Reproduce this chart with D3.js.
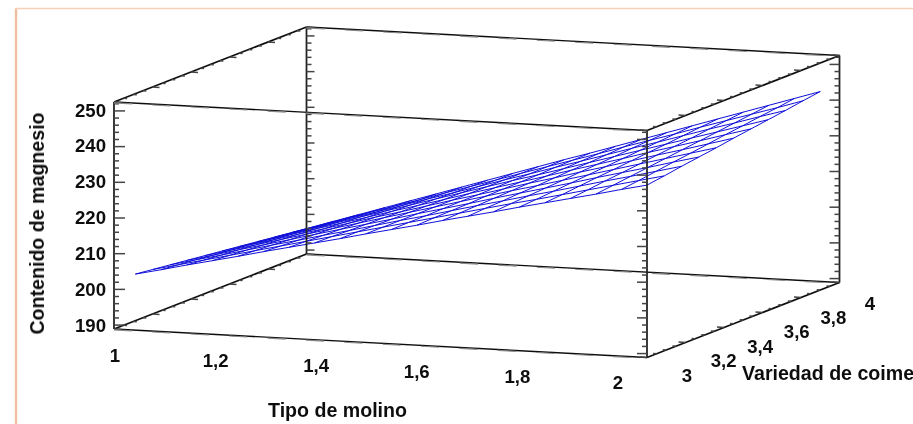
<!DOCTYPE html>
<html><head><meta charset="utf-8">
<style>html,body{margin:0;padding:0;background:#fff;overflow:hidden}svg{display:block}text{font-family:"Liberation Sans",Arial,sans-serif;font-weight:700;fill:#111}</style>
<script src="https://cdnjs.cloudflare.com/ajax/libs/d3/7.8.5/d3.min.js"></script>
</head><body><svg id="c" width="913" height="424"></svg>
<script>
const xTicks=[1,1.2,1.4,1.6,1.8,2];
const xTickLabels=["1","1,2","1,4","1,6","1,8","2"];
const cTicks=[3,3.2,3.4,3.6,3.8,4];
const cTickLabels=["3","3,2","3,4","3,6","3,8","4"];
const zTicks=[190,200,210,220,230,240,250];
const xGrid=[1.04,1.088,1.136,1.184,1.232,1.28,1.328,1.376,1.424,1.472,1.52,1.568,1.616,1.664,1.712,1.76,1.808,1.856,1.904,1.952,2];
const cGrid=[3,3.09,3.18,3.27,3.36,3.45,3.54,3.63,3.72,3.81,3.9];
const z0=[204.6,206.2,207.9,209.5,211.1,212.8,214.4,216.0,217.6,219.3,220.9,222.5,224.2,225.8,227.4,229.1,230.7,232.3,233.9,235.6,237.2];
const z1=[204.0,205.7,207.4,209.1,210.8,212.5,214.2,215.9,217.6,219.3,221.0,222.7,224.4,226.1,227.8,229.4,231.1,232.8,234.5,236.2,237.9];
const z2=[203.4,205.2,206.9,208.7,210.5,212.2,214.0,215.7,217.5,219.3,221.0,222.8,224.6,226.3,228.1,229.8,231.6,233.4,235.1,236.9,238.7];
const z3=[202.8,204.6,206.5,208.3,210.1,212.0,213.8,215.6,217.4,219.3,221.1,222.9,224.8,226.6,228.4,230.2,232.1,233.9,235.7,237.6,239.4];
const z4=[202.2,204.1,206.0,207.9,209.8,211.7,213.6,215.5,217.4,219.3,221.2,223.1,225.0,226.8,228.7,230.6,232.5,234.4,236.3,238.2,240.1];
const z5=[201.6,203.6,205.5,207.5,209.4,211.4,213.4,215.3,217.3,219.3,221.2,223.2,225.2,227.1,229.1,231.0,233.0,235.0,236.9,238.9,240.9];
const z6=[201.0,203.0,205.1,207.1,209.1,211.1,213.2,215.2,217.2,219.3,221.3,223.3,225.3,227.4,229.4,231.4,233.5,235.5,237.5,239.6,241.6];
const z7=[200.4,202.5,204.6,206.7,208.8,210.9,213.0,215.1,217.2,219.3,221.4,223.4,225.5,227.6,229.7,231.8,233.9,236.0,238.1,240.2,242.3];
const z8=[199.8,202.0,204.1,206.3,208.4,210.6,212.8,214.9,217.1,219.3,221.4,223.6,225.7,227.9,230.1,232.2,234.4,236.6,238.7,240.9,243.0];
const z9=[199.2,201.4,203.7,205.9,208.1,210.3,212.6,214.8,217.0,219.3,221.5,223.7,225.9,228.2,230.4,232.6,234.9,237.1,239.3,241.5,243.8];
const z10=[198.6,200.9,203.2,205.5,207.8,210.1,212.4,214.7,217.0,219.3,221.6,223.8,226.1,228.4,230.7,233.0,235.3,237.6,239.9,242.2,244.5];
const surface=[z0,z1,z2,z3,z4,z5,z6,z7,z8,z9,z10];

const svg=d3.select("#c");
const defs=svg.append("defs");
defs.append("filter").attr("id","soft").attr("x","-5%").attr("y","-5%").attr("width","110%").attr("height","110%")
  .append("feGaussianBlur").attr("stdDeviation",0.45);
defs.append("filter").attr("id","softT").attr("x","-5%").attr("y","-5%").attr("width","110%").attr("height","110%")
  .append("feGaussianBlur").attr("stdDeviation",0.3);

const xPx=d3.scaleLinear([1,2],[0,533]), xPy=d3.scaleLinear([1,2],[0,28.5]);
const cPx=d3.scaleLinear([3,4],[0,192.5]), cPy=d3.scaleLinear([3,4],[0,-75]);
const zPy=d3.scaleLinear([188.9,252.5],[329,102]);
const zMin=188.9,zMax=252.5;
const P=(x,c,z)=>[114+xPx(x)+cPx(c), zPy(z)+xPy(x)+cPy(c)];

svg.append("path").attr("d","M16,424V8.5").attr("fill","none").attr("stroke","#f0bfa2").attr("stroke-width",2.4);
svg.append("path").attr("d","M15,8.5H913").attr("fill","none").attr("stroke","#f6cfb8").attr("stroke-width",1.5);

const g=svg.append("g").attr("filter","url(#soft)");
const line=d3.line();
const ink="#111";
function seg(a,b,w=1.7,col=ink){g.append("path").attr("d",line([a,b])).attr("stroke",col).attr("stroke-width",w).attr("fill","none");}

const sg=g.append("g").attr("fill","none").attr("stroke","#1010d8").attr("stroke-width",1);
surface.forEach((row,i)=>sg.append("path").attr("d",line(row.map((z,j)=>P(xGrid[j],cGrid[i],z)))));
xGrid.forEach((x,j)=>sg.append("path").attr("d",line(cGrid.map((c,i)=>P(x,c,surface[i][j])))));

[zMin,zMax].forEach(z=>{
  seg(P(1,3,z),P(2,3,z),1.4);seg(P(2,3,z),P(2,4,z));seg(P(2,4,z),P(1,4,z),1.4);seg(P(1,4,z),P(1,3,z));
});
[[1,3],[2,3],[2,4],[1,4]].forEach(([x,c])=>seg(P(x,c,zMin),P(x,c,zMax),1.8,"#222"));

const zAll=d3.range(188,253,2).filter(z=>z>=zMin&&z<=zMax);
const uprights=[[1,3,1,11,5],[1,4,1,8,5],[2,3,-1,10,5],[2,4,-1,10,5]];
uprights.forEach(([x,c,dir,maj,min])=>{
  zAll.forEach(z=>{
    const p=P(x,c,z),L=z%10===0?maj:min;
    seg(p,[p[0]+dir*L,p[1]],1.5,"#444");
  });
});

const cAll=d3.range(3,4.001,0.05);
[[1,1],[2,-1]].forEach(([x,dir])=>[zMin,zMax].forEach(z=>{
  cAll.forEach((c,i)=>{
    const p=P(x,c,z),L=i%4===0?7:3.5;
    seg(p,[p[0]+dir*L,p[1]+dir*L*0.055],1.5,"#444");
  });
}));

const xAll=d3.range(1,2,0.072);
[3,4].forEach(c=>[zMin,zMax].forEach(z=>{
  xAll.forEach(x=>{
    const a=P(x,c,z),b=P(x+0.034,c,z);
    seg([a[0],a[1]+0.9],[b[0],b[1]+0.9],1.1,"#888");
  });
}));

const t=svg.append("g").attr("filter","url(#softT)").attr("font-size",18.6);
const lx=d3.scaleLinear([1,2],[115,618]), ly=d3.scaleLinear([1,2],[355,382]);
xTicks.forEach((v,i)=>t.append("text").attr("x",lx(v)).attr("y",ly(v)).attr("text-anchor","middle").attr("dy","0.35em").text(xTickLabels[i]));
const mx=d3.scaleLinear([3,4],[687,870]), my=d3.scaleLinear([3,4],[375,303]);
cTicks.forEach((v,i)=>t.append("text").attr("x",mx(v)).attr("y",my(v)).attr("text-anchor","middle").attr("dy","0.35em").text(cTickLabels[i]));
const zl=d3.scaleLinear([190,250],[325,110]);
zTicks.forEach(v=>t.append("text").attr("x",106).attr("y",zl(v)).attr("text-anchor","end").attr("dy","0.35em").text(v));
t.append("text").attr("x",337.5).attr("y",410).attr("font-size",19.6).attr("text-anchor","middle").attr("dy","0.35em").text("Tipo de molino");
t.append("text").attr("x",742).attr("y",373).attr("font-size",19.6).attr("dy","0.35em").text("Variedad de coime");
t.append("text").attr("transform","translate(37,223.5) rotate(-90)").attr("font-size",19.6).attr("text-anchor","middle").attr("dy","0.35em").text("Contenido de magnesio");
</script></body></html>
